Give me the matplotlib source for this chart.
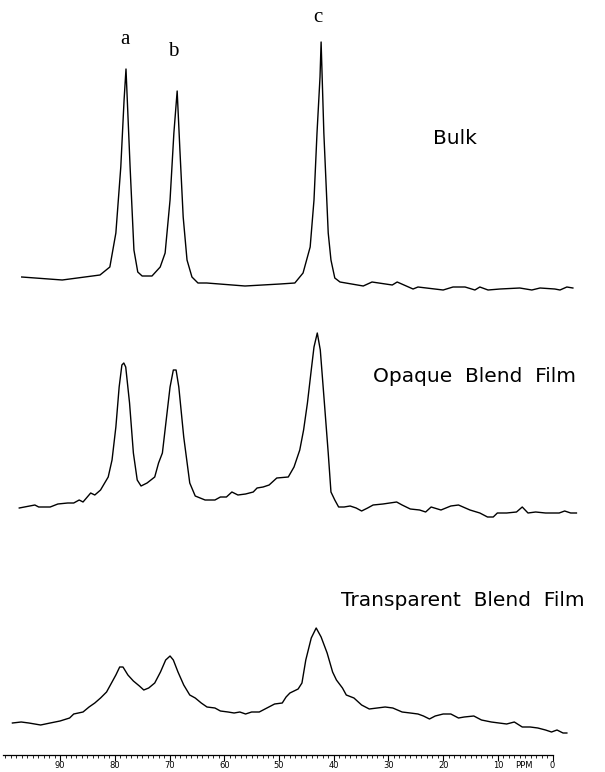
import numpy as np
import matplotlib.pyplot as plt

# ---- 13C CP/MAS spectra (ppm, intensity in arbitrary units) ----
bulk_ppm = [97.0, 89.6, 82.7, 80.9, 79.8, 78.9, 78.3, 77.95, 77.2, 76.5, 75.8, 75.0,
            73.2, 71.7, 70.8, 69.9, 69.2, 68.6, 68.1, 67.5, 66.8, 65.9, 64.8, 63.2,
            56.2, 49.8, 47.1, 45.6, 44.3, 43.6, 43.05, 42.5, 42.3, 41.8, 41.0, 40.5,
            39.8, 38.85, 34.6, 33.0, 29.3, 28.4, 25.5, 24.6, 20.0, 18.2, 16.0, 14.2,
            13.3, 11.8, 9.6, 6.0, 3.8, 2.3, -0.4, -1.35, -2.6, -3.7]
bulk_int = [3, 0, 5, 13, 47, 113, 180, 211, 113, 30, 8, 4,
            4, 13, 27, 80, 147, 189, 130, 63, 20, 3, -3, -3,
            -6, -4, -3, 7, 33, 80, 147, 203, 238, 147, 47, 20,
            2, -2, -6, -2, -5, -2, -9, -7, -10, -7, -7, -10,
            -7, -10, -9, -8, -10, -8, -9, -10, -7, -8]

opaque_ppm = [97.45, 94.6, 93.9, 91.8, 90.4, 88.6, 87.5, 86.5, 85.8, 84.4, 83.65, 82.6,
              81.2, 80.5, 79.8, 79.2, 78.7, 78.35, 78.0, 77.3, 76.6, 75.9, 75.2, 74.1,
              72.7, 72.0, 71.3, 70.6, 69.9, 69.3, 68.8, 68.3, 67.4, 66.3, 65.3, 63.5,
              61.7, 60.7, 59.6, 58.6, 57.5, 56.1, 54.7, 54.0, 52.9, 51.8, 50.4, 48.3,
              47.25, 46.2, 45.5, 44.8, 44.1, 43.6, 43.0, 42.45, 41.7, 41.0, 40.5, 39.8,
              39.1, 38.1, 37.0, 35.9, 34.9, 33.8, 32.8, 31.0, 28.5, 27.5, 26.0, 24.3,
              23.2, 22.2, 20.4, 18.6, 17.2, 15.1, 13.3, 11.9, 10.85, 10.1, 8.4, 6.6,
              5.55, 4.5, 3.1, 1.3, -1.2, -2.2, -3.3, -4.35]
opaque_int = [2, 5, 3, 3, 6, 7, 7, 10, 8, 17, 15, 20,
              33, 50, 83, 123, 145, 147, 143, 107, 57, 30, 24, 27,
              33, 47, 57, 90, 123, 140, 140, 123, 73, 27, 14, 10,
              10, 13, 13, 18, 15, 16, 18, 22, 23, 25, 32, 33,
              43, 60, 80, 107, 140, 163, 177, 160, 107, 57, 18, 10,
              3, 3, 4, 2, -1, 2, 5, 6, 8, 5, 1, 0,
              -2, 3, 0, 4, 5, 0, -3, -7, -7, -3, -3, -2,
              3, -3, -2, -3, -3, -1, -3, -3]

transp_ppm = [98.7, 97.1, 95.7, 93.55, 91.8, 90.0, 88.25, 87.5, 85.8, 84.7, 83.65, 82.6,
              81.5, 80.5, 79.8, 79.1, 78.5, 77.6, 76.6, 75.5, 74.7, 73.8, 72.7, 71.65,
              70.7, 69.9, 69.3, 68.45, 67.4, 66.3, 65.3, 64.2, 63.15, 61.7, 60.7, 59.3,
              58.2, 57.15, 56.1, 55.0, 53.6, 52.2, 50.8, 49.4, 48.7, 48.0, 46.5, 45.8,
              45.1, 44.1, 43.2, 42.3, 41.2, 40.2, 39.5, 38.4, 37.7, 36.3, 34.9, 33.5,
              32.05, 30.6, 29.2, 27.5, 26.0, 24.6, 23.6, 22.5, 21.45, 20.0, 18.6, 17.2,
              16.15, 14.4, 13.0, 11.2, 9.8, 8.4, 7.0, 5.55, 4.1, 2.7, 1.3, 0.2,
              -0.8, -1.9, -2.6]
transp_int = [7, 8, 7, 5, 7, 9, 12, 16, 18, 23, 27, 32,
              38, 48, 55, 63, 63, 55, 49, 44, 40, 42, 47, 58,
              70, 74, 70, 58, 45, 35, 32, 27, 23, 22, 19, 18,
              17, 18, 16, 18, 18, 22, 26, 27, 33, 37, 41, 47,
              70, 92, 102, 93, 77, 58, 50, 42, 35, 32, 25, 21,
              22, 23, 22, 18, 17, 16, 14, 11, 14, 16, 16, 12,
              13, 14, 10, 8, 7, 6, 8, 3, 3, 2, 0, -2,
              0, -3, -3]

# ---- stacking: vertical offset of each spectrum ----
traces = [
    (bulk_ppm, bulk_int, 492),
    (opaque_ppm, opaque_int, 262),
    (transp_ppm, transp_int, 42),
]
peak_names = ['a', 'b', 'c']
peak_ppm = [78.2, 69.4, 42.8]

# ruler ticks
major_ticks = np.arange(0, 100, 10)
minor_ticks = np.arange(0, 101, 1)
tick_labels = ['0', '10', '20', '30', '40', '50', '60', '70', '80', '90']

fig = plt.figure(figsize=(6.05, 7.72), dpi=100)
ax = fig.add_axes([0, 0, 1, 1])
ax.set_xlim(100.97, -9.57)
ax.set_ylim(0, 772)

for ppm, inten, off in traces:
    ax.plot(ppm, np.array(inten) + off, color='black', lw=1.0)

# sample names (spaced-out plotter lettering in the original)
ax.text(17.8, 634, 'Bulk', fontsize=14.5, ha='center', va='center')
ax.text(14.3, 395, 'Opaque  Blend  Film', fontsize=14.5, ha='center', va='center')
ax.text(38.7, 171, 'Transparent  Blend  Film', fontsize=14.5, ha='left', va='center')

for name, p, y in zip(peak_names, peak_ppm, [732, 720, 754]):
    ax.text(p, y, name, family='Liberation Serif', fontsize=15,
            ha='center', va='center')

# ---- ruler at the bottom (ppm scale) ----
for s in ['top', 'left', 'right']:
    ax.spines[s].set_visible(False)
ax.spines['bottom'].set_position(('data', 17))
ax.spines['bottom'].set_bounds(0, 100.4)
ax.spines['bottom'].set_linewidth(0.9)
ax.set_yticks([])
ax.set_xticks(major_ticks)
ax.set_xticklabels(tick_labels)
ax.set_xticks(minor_ticks, minor=True)
ax.tick_params(axis='x', which='major', direction='out', length=4, width=0.8,
               pad=0.6, labelsize=6)
ax.tick_params(axis='x', which='minor', direction='out', length=2.5, width=0.6)
ax.text(5.3, 6.5, 'PPM', fontsize=6, ha='center', va='center')

fig.savefig('out.png', dpi=100)
